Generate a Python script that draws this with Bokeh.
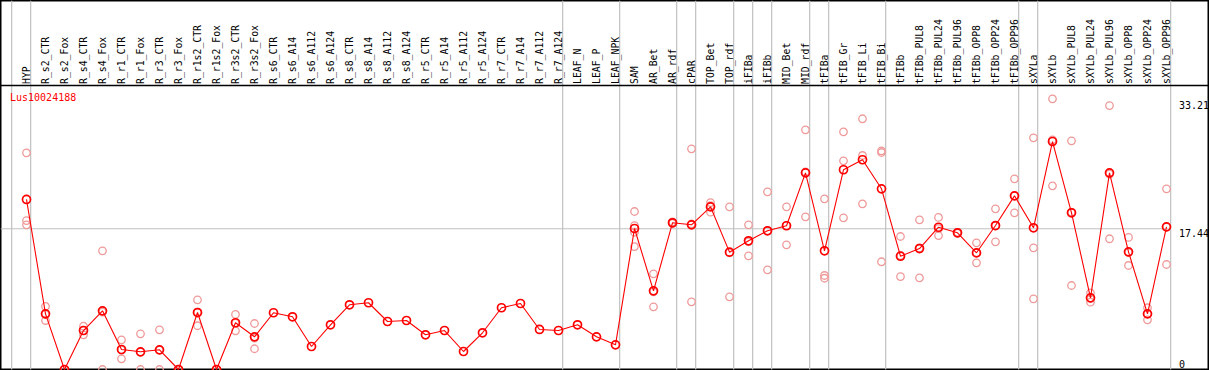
import math
from bokeh.plotting import figure
from bokeh.models import Range1d
from bokeh.embed import file_html
from bokeh.resources import INLINE
from bokeh.core.properties import value

# ---------------- data ----------------
gene = "Lus10024188"

samples = ["HYP", "R_s2_CTR", "R_s2_Fox", "R_s4_CTR", "R_s4_Fox", "R_r1_CTR", "R_r1_Fox",
           "R_r3_CTR", "R_r3_Fox", "R_r1s2_CTR", "R_r1s2_Fox", "R_r3s2_CTR", "R_r3s2_Fox",
           "R_s6_CTR", "R_s6_A14", "R_s6_A112", "R_s6_A124", "R_s8_CTR", "R_s8_A14",
           "R_s8_A112", "R_s8_A124", "R_r5_CTR", "R_r5_A14", "R_r5_A112", "R_r5_A124",
           "R_r7_CTR", "R_r7_A14", "R_r7_A112", "R_r7_A124", "LEAF_N", "LEAF_P", "LEAF_NPK",
           "SAM", "AR_Bet", "AR_rdf", "cPAR", "TOP_Bet", "TOP_rdf", "iFIBa", "iFIBb",
           "MID_Bet", "MID_rdf", "tFIBa", "tFIB_Gr", "tFIB_Li", "tFIB_Bi", "tFIBb",
           "tFIBb_PUL8", "tFIBb_PUL24", "tFIBb_PUL96", "tFIBb_OPP8", "tFIBb_OPP24",
           "tFIBb_OPP96", "sXYLa", "sXYLb", "sXYLb_PUL8", "sXYLb_PUL24", "sXYLb_PUL96",
           "sXYLb_OPP8", "sXYLb_OPP24", "sXYLb_OPP96"]

means = [21.07, 6.90, 0.0, 4.83, 7.27, 2.48, 2.19, 2.44, 0.0, 7.06, 0.0, 5.79, 4.05,
         7.03, 6.53, 2.85, 5.54, 8.02, 8.27, 5.95, 6.07, 4.30, 4.83, 2.23, 4.55,
         7.65, 8.18, 4.96, 4.83, 5.54, 4.05, 3.06,
         17.47, 9.75, 18.18, 17.93, 20.16, 14.54, 15.95, 17.19, 17.81, 24.37,
         14.71, 24.75, 25.99, 22.39, 14.04, 14.99, 17.63, 16.94, 14.46, 17.84, 21.52,
         17.56, 28.25, 19.42, 8.88, 24.37, 14.58, 6.90, 17.68]

replicates = [
    [26.85, 18.46, 17.93],          # HYP
    [7.81, 6.07, 6.82],             # R_s2_CTR
    [0.0, 0.0, 0.0],                # R_s2_Fox
    [5.37, 4.30, 4.82],             # R_s4_CTR
    [14.71, 0.0, 7.10],             # R_s4_Fox
    [3.68, 1.33, 2.43],             # R_r1_CTR
    [4.42, 0.0, 2.15],              # R_r1_Fox
    [4.92, 0.0, 2.40],              # R_r3_CTR
    [0.0, 0.0, 0.0],                # R_r3_Fox
    [8.64, 5.42, 7.12],             # R_r1s2_CTR
    [0.0, 0.0, 0.0],                # R_r1s2_Fox
    [6.82, 4.80, 5.75],             # R_r3s2_CTR
    [5.70, 2.57, 3.88],             # R_r3s2_Fox
    [], [], [], [], [], [], [], [], [], [], [], [], [], [], [], [],  # R_s6 .. R_r7
    [], [], [],                     # LEAF
    [19.58, 17.84, 17.01, 15.23],   # SAM
    [11.86, 7.77, 9.62],            # AR_Bet
    [18.30, 18.10, 18.15],          # AR_rdf
    [27.35, 8.39, 18.05],           # cPAR
    [20.69, 19.49, 20.30],          # TOP_Bet
    [20.16, 9.01, 14.45],           # TOP_rdf
    [17.93, 14.09, 15.83],          # iFIBa
    [22.02, 12.35, 17.20],          # iFIBb
    [20.16, 15.45, 17.82],          # MID_Bet
    [29.70, 18.92, 24.49],          # MID_rdf
    [21.15, 11.65, 11.31],          # tFIBa
    [29.45, 25.86, 18.80],          # tFIB_Gr
    [31.07, 26.52, 20.53],          # tFIB_Li
    [27.10, 26.89, 13.35],          # tFIB_Bi
    [16.48, 11.52, 14.12],          # tFIBb
    [18.55, 11.36, 15.06],          # tFIBb_PUL8
    [18.84, 16.60, 17.45],          # tFIBb_PUL24
    [17.00, 16.90, 16.90],          # tFIBb_PUL96
    [15.70, 13.22, 14.46],          # tFIBb_OPP8
    [19.91, 15.82, 17.79],          # tFIBb_OPP24
    [23.63, 19.42, 21.51],          # tFIBb_OPP96
    [28.71, 15.08, 8.76],           # sXYLa
    [33.54, 22.76, 28.45],          # sXYLb
    [28.34, 10.41, 19.51],          # sXYLb_PUL8
    [9.50, 8.34, 8.80],             # sXYLb_PUL24
    [32.71, 16.20, 24.20],          # sXYLb_PUL96
    [16.36, 12.89, 14.49],          # sXYLb_OPP8
    [7.65, 6.16, 6.89],             # sXYLb_OPP24
    [22.39, 13.01, 17.64],          # sXYLb_OPP96
]

group_ends = [-1, 0, 28, 31, 34, 35, 37, 38, 39, 41, 42, 45, 52, 53, 60]
ref_level = 17.44
tick_values = [33.21, 17.44]
tick_labels = ["33.21", "17.44"]
zero_label = "0"

# ---------------- layout geometry (reference pixel frame) ----------------
W, H = 1209, 370
COL0, DX = 26.0, 19.0      # x pixel of first column, column pitch
Y0, KY = 369.0, 8.07       # y pixel of value 0, pixels per unit
HEADER_Y = 85.0
SEP_OFF = 0.22
FONT = value("DejaVu Sans Mono")

x_rng = Range1d((0 - COL0) / DX, (W - COL0) / DX)
y_rng = Range1d((Y0 - H) / KY, Y0 / KY)

p = figure(width=W, height=H, x_range=x_rng, y_range=y_rng,
           output_backend="svg", toolbar_location=None, min_border=0,
           x_axis_location=None, y_axis_location=None,
           outline_line_color="black", outline_line_width=2,
           background_fill_color="white", border_fill_color="white")
p.grid.grid_line_color = None
p.extra_x_ranges = {"px": Range1d(0, W)}
p.extra_y_ranges = {"hdr": Range1d(H, 0)}

xs = list(range(len(samples)))

# group separators (through header and plot)
sep_x = [g + SEP_OFF for g in group_ends]
p.segment(x0=sep_x, y0=[0] * len(sep_x), x1=sep_x, y1=[Y0] * len(sep_x),
          y_range_name="hdr", line_color="#c0c0c0", line_width=1.2)

# reference horizontal line
p.segment(x0=[x_rng.start], y0=[ref_level], x1=[group_ends[-1] + SEP_OFF], y1=[ref_level],
          line_color="#c0c0c0", line_width=1.2)

# header bottom line
p.segment(x0=[0], y0=[HEADER_Y], x1=[W], y1=[HEADER_Y],
          x_range_name="px", y_range_name="hdr", line_color="black", line_width=1.5)

# header labels
p.text(x=xs, y=[HEADER_Y - 1.5] * len(xs), text=samples, y_range_name="hdr",
       angle=math.pi / 2, text_align="left", text_baseline="middle",
       text_font=FONT, text_font_size="9.8px", text_color="black")

# replicate points
rx, ry = [], []
for i, reps in enumerate(replicates):
    for v in reps:
        rx.append(i)
        ry.append(v)
p.scatter(rx, ry, marker="circle", size=7.5, fill_color=None,
          line_color="#ef9a9a", line_width=1.3)

# mean line and points
p.line(xs, means, line_color="#ff0000", line_width=1.1)
p.scatter(xs, means, marker="circle", size=8, fill_color=None,
          line_color="#ff0000", line_width=1.7)

# gene label
p.text(x=[9.5], y=[91], text=[gene], x_range_name="px", y_range_name="hdr",
       text_align="left", text_baseline="top", text_font=FONT,
       text_font_size="10px", text_color="#ff0000")

# right value labels
p.text(x=[1178.5] * len(tick_values), y=tick_values, text=tick_labels, x_range_name="px",
       text_align="left", text_baseline="top", text_font=FONT,
       text_font_size="10px", text_color="black")
p.text(x=[1178.5], y=[0], text=[zero_label], x_range_name="px",
       text_align="left", text_baseline="bottom", y_offset=-2, text_font=FONT,
       text_font_size="10px", text_color="black")

open("out.html", "w").write(file_html(p, INLINE))
